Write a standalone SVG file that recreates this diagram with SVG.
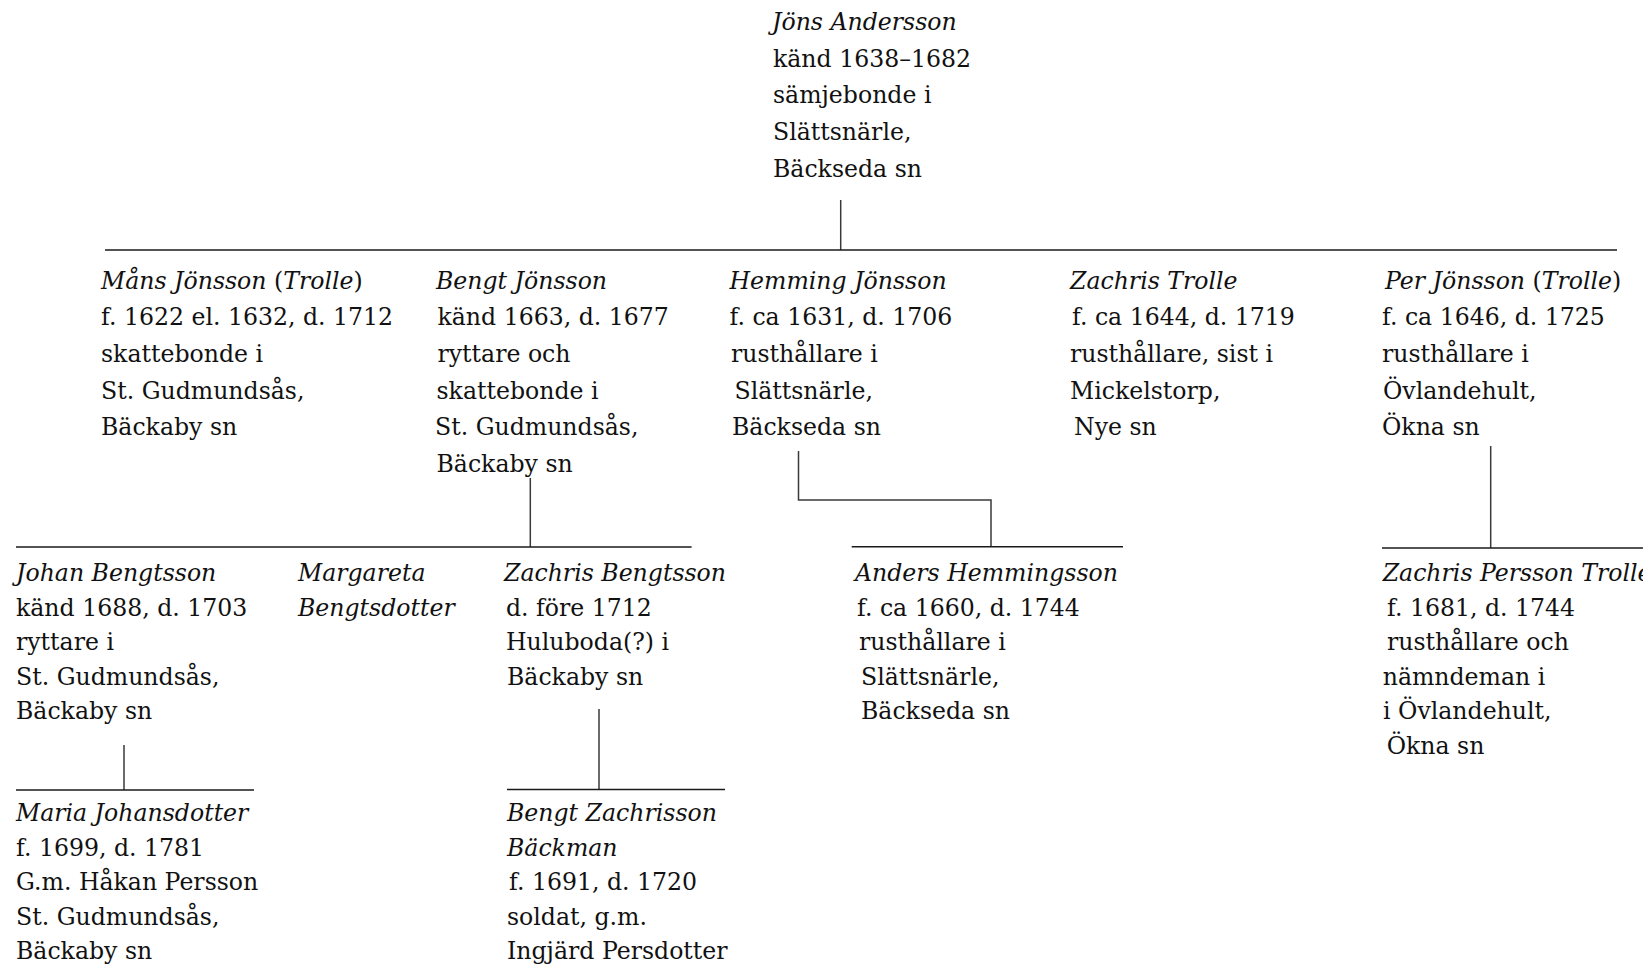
<svg xmlns="http://www.w3.org/2000/svg" width="1643" height="966" viewBox="0 0 1643 966">
<style>
text{font-family:"DejaVu Serif","Liberation Serif",serif;font-size:23.6px;fill:#111}
.i{font-style:italic}
.h{stroke:#1a1a1a;stroke-width:1.6;fill:none}
.v{stroke:#3a3a3a;stroke-width:1.5;fill:none}
</style>
<rect width="1643" height="966" fill="#fff"/>
<g id="connectors">
<line class="v" x1="840.7" y1="200" x2="840.7" y2="250"/>
<line class="h" x1="105" y1="250" x2="1617" y2="250"/>
<line class="v" x1="530.3" y1="478" x2="530.3" y2="547"/>
<line class="h" x1="16" y1="547" x2="691.6" y2="547"/>
<polyline class="v" points="798.5,451 798.5,500 991,500 991,546.7"/>
<line class="h" x1="851.7" y1="546.7" x2="1123" y2="546.7"/>
<line class="v" x1="1490.7" y1="446" x2="1490.7" y2="548"/>
<line class="h" x1="1382" y1="548" x2="1643" y2="548"/>
<line class="v" x1="124" y1="745" x2="124" y2="790"/>
<line class="h" x1="16" y1="790" x2="254" y2="790"/>
<line class="v" x1="599" y1="709" x2="599" y2="789.5"/>
<line class="h" x1="507" y1="789.5" x2="725" y2="789.5"/>
</g>
<g id="jons">
<text><tspan class="i" x="772" y="30">Jöns Andersson</tspan><tspan x="773" y="66.7">känd 1638–1682</tspan><tspan x="773" y="103.4">sämjebonde i</tspan><tspan x="773" y="140.1">Slättsnärle,</tspan><tspan x="773" y="176.8">Bäckseda sn</tspan></text>
</g>
<g id="mans">
<text><tspan x="101" y="288.5"><tspan class="i">Måns Jönsson</tspan> (<tspan class="i">Trolle</tspan>)</tspan><tspan x="101" y="325.2">f. 1622 el. 1632, d. 1712</tspan><tspan x="101" y="361.9">skattebonde i</tspan><tspan x="101" y="398.6">St. Gudmundsås,</tspan><tspan x="101" y="435.3">Bäckaby sn</tspan></text>
</g>
<g id="bengt">
<text><tspan class="i" x="436" y="288.5">Bengt Jönsson</tspan><tspan x="437.5" y="325.2">känd 1663, d. 1677</tspan><tspan x="437.5" y="361.9">ryttare och</tspan><tspan x="436.5" y="398.6">skattebonde i</tspan><tspan x="435" y="435.3">St. Gudmundsås,</tspan><tspan x="436.5" y="472">Bäckaby sn</tspan></text>
</g>
<g id="hemming">
<text><tspan class="i" x="729.5" y="288.5">Hemming Jönsson</tspan><tspan x="729.5" y="325.2">f. ca 1631, d. 1706</tspan><tspan x="731" y="361.9">rusthållare i</tspan><tspan x="734.5" y="398.6">Slättsnärle,</tspan><tspan x="732" y="435.3">Bäckseda sn</tspan></text>
</g>
<g id="zachris-trolle">
<text><tspan class="i" x="1070" y="288.5">Zachris Trolle</tspan><tspan x="1072" y="325.2">f. ca 1644, d. 1719</tspan><tspan x="1070" y="361.9">rusthållare, sist i</tspan><tspan x="1070" y="398.6">Mickelstorp,</tspan><tspan x="1074" y="435.3">Nye sn</tspan></text>
</g>
<g id="per">
<text><tspan x="1385" y="288.5"><tspan class="i">Per Jönsson</tspan> (<tspan class="i">Trolle</tspan>)</tspan><tspan x="1382" y="325.2">f. ca 1646, d. 1725</tspan><tspan x="1382" y="361.9">rusthållare i</tspan><tspan x="1383" y="398.6">Övlandehult,</tspan><tspan x="1382" y="435.3">Ökna sn</tspan></text>
</g>
<g id="johan">
<text><tspan class="i" x="16" y="581">Johan Bengtsson</tspan><tspan x="16" y="615.5">känd 1688, d. 1703</tspan><tspan x="16" y="650">ryttare i</tspan><tspan x="16" y="684.5">St. Gudmundsås,</tspan><tspan x="16" y="719">Bäckaby sn</tspan></text>
</g>
<g id="margareta">
<text class="i"><tspan x="298" y="581">Margareta</tspan><tspan x="298" y="615.5">Bengtsdotter</tspan></text>
</g>
<g id="zachris-bengtsson">
<text><tspan class="i" x="504" y="581">Zachris Bengtsson</tspan><tspan x="506" y="615.5">d. före 1712</tspan><tspan x="506" y="650">Huluboda(?) i</tspan><tspan x="507" y="684.5">Bäckaby sn</tspan></text>
</g>
<g id="anders">
<text><tspan class="i" x="855" y="581">Anders Hemmingsson</tspan><tspan x="857" y="615.5">f. ca 1660, d. 1744</tspan><tspan x="859" y="650">rusthållare i</tspan><tspan x="861" y="684.5">Slättsnärle,</tspan><tspan x="861" y="719">Bäckseda sn</tspan></text>
</g>
<g id="zachris-persson">
<text><tspan class="i" x="1382.7" y="581">Zachris Persson Trolle</tspan><tspan x="1387" y="615.5">f. 1681, d. 1744</tspan><tspan x="1387" y="650">rusthållare och</tspan><tspan x="1382.7" y="684.5">nämndeman i</tspan><tspan x="1383" y="719">i Övlandehult,</tspan><tspan x="1386.7" y="753.5">Ökna sn</tspan></text>
</g>
<g id="maria">
<text><tspan class="i" x="16" y="821">Maria Johansdotter</tspan><tspan x="16" y="855.5">f. 1699, d. 1781</tspan><tspan x="16" y="890">G.m. Håkan Persson</tspan><tspan x="16" y="924.5">St. Gudmundsås,</tspan><tspan x="16" y="959">Bäckaby sn</tspan></text>
</g>
<g id="bengt-zachrisson">
<text><tspan class="i" x="507" y="821">Bengt Zachrisson</tspan><tspan class="i" x="507" y="855.5">Bäckman</tspan><tspan x="509" y="890">f. 1691, d. 1720</tspan><tspan x="507" y="924.5">soldat, g.m.</tspan><tspan x="507" y="959">Ingjärd Persdotter</tspan></text>
</g>
</svg>
